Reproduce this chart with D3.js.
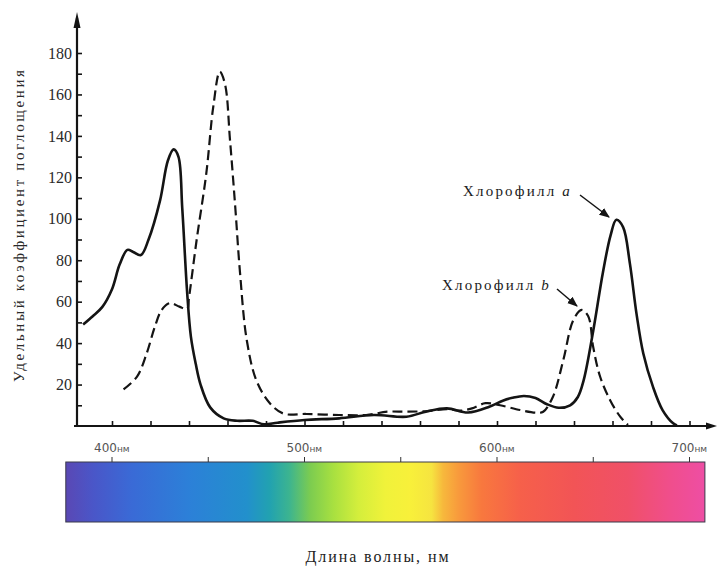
<!DOCTYPE html>
<html><head><meta charset="utf-8">
<script src="https://cdn.jsdelivr.net/npm/d3@7"></script>
<style>html,body{margin:0;padding:0;background:#fff;}svg{display:block;}
.serif{font-family:"Liberation Serif","DejaVu Serif","Noto Serif",serif;}
.sans{font-family:"DejaVu Sans","Liberation Sans",sans-serif;}
</style>
</head><body>
<svg id="chart" width="719" height="572"></svg>
<script>
// ---- data ----
const wavelengthA = [385,390,395,400,404,408,411,415,419,425,429,432,434.5,436.5,439,441,443.5,446,451,458,465,473,479,486,500,518,536,553,563,574,585,596,603,608,614,620,626,632,638,642,645,650,655,659,662,665.5,669,672.5,676,681,686,691.5,693.5];
const absorbA = [49,53,57.5,66,78,85,84,82.5,90,109,128,133.5,130,105,65,43,30,20,9,3.7,2.5,2.5,0.8,1.6,2.9,3.7,5.3,4.5,6.9,8.5,6.5,9.3,12.2,13.6,14.5,13.5,10.5,8.8,10,14,22,46,74,92,99.5,96,78.6,54,35,19,7.7,1.3,0.3];
const wavelengthB = [406,413,418,422.3,425.8,430,435,439,440,444,449,452.6,456,458.7,461.3,464,466.5,470,475,482,489,501,518,532,543,553,564,574,581,587,594,601.6,612,620.6,624,629,634.5,639.6,644,647.4,650,653.5,658.7,664,668];
const absorbB = [17.7,23.8,35,48,56,59.3,57.6,56.4,62,90,122,154,171,165,138,106,74,41.5,22,11,6,5.8,5.3,5.3,6.9,6.9,7.2,8.1,7.4,8.5,11,10,7.7,6.4,6.9,14,32,51,56,53,38,24,12.6,4.5,0.5];
const yTicks = d3.range(10, 181, 10);
const yLabelTicks = [20,40,60,80,100,120,140,160,180];
const xTicks = d3.range(400, 701, 20);
const spectrumTicks = d3.range(400, 701, 50);
const spectrumLabels = [400, 500, 600, 700];
const spectrumWl = [376,390,410,440,470,482,492,503,515,528,542,555,566,572,580,592,612,640,668,690,708];
const spectrumColor = ["#5a48b4","#4a56c8","#3a6ad6","#2c80d8","#2290cc","#22a2b0","#3cb490","#7ccc50","#a8e040","#d4ee3c","#f0f23a","#f8f03a","#f6e440","#f7b83c","#f89a3c","#f8783e","#f6604a","#f25456","#f05068","#f04e8c","#ee4ea4"];
const yTitle = "Удельный коэффициент поглощения";
const xTitle = "Длина волны, нм";
const labelA = ["Хлорофилл ", "a"];
const labelB = ["Хлорофилл ", "b"];

// ---- chart ----
const svg = d3.select("#chart");
const x = d3.scaleLinear().domain([400, 700]).range([112, 689.5]);
const y = d3.scaleLinear().domain([0, 180]).range([426, 53]);
const ink = "#141414";

const defs = svg.append("defs");
defs.append("marker").attr("id","ah").attr("viewBox","0 0 10 10").attr("refX",9).attr("refY",5)
  .attr("markerWidth",7).attr("markerHeight",7).attr("orient","auto")
  .append("path").attr("d","M0,1 L10,5 L0,9 Z").attr("fill",ink);

// spectrum gradient
const barX0 = x(376), barX1 = x(708);
const grad = defs.append("linearGradient").attr("id","spec")
  .attr("gradientUnits","userSpaceOnUse").attr("x1",barX0).attr("x2",barX1).attr("y1",0).attr("y2",0);
spectrumWl.forEach((w,i)=>{
  grad.append("stop").attr("offset",(x(w)-barX0)/(barX1-barX0)).attr("stop-color",spectrumColor[i]);
});

// y axis
const axX = x(400)-35;
const yAxis = d3.axisLeft(y).tickValues(yTicks).tickSize(-5).tickPadding(5)
  .tickFormat(d => yLabelTicks.includes(d) ? d : "");
const gy = svg.append("g").attr("transform",`translate(${axX},0)`).call(yAxis);
gy.attr("font-family",null);
gy.select(".domain").remove();
gy.selectAll(".tick line").attr("stroke",ink).attr("stroke-width",1.6);
gy.selectAll(".tick text").attr("class","serif").attr("font-size",16).attr("fill","#2a2a2a");
svg.append("line").attr("x1",axX).attr("x2",axX).attr("y1",y(0)+1).attr("y2",18)
  .attr("stroke",ink).attr("stroke-width",2.2);
svg.append("path").attr("d",`M${axX},12 L${axX-3.5},28 L${axX+3.5},28 Z`).attr("fill",ink);

// x axis
const xAxis = d3.axisBottom(x).tickValues(xTicks).tickSize(-5).tickFormat("");
const gx = svg.append("g").attr("transform",`translate(0,${y(0)})`).call(xAxis);
gx.select(".domain").remove();
gx.selectAll(".tick line").attr("stroke",ink).attr("stroke-width",1.6);
svg.append("line").attr("x1",axX-3).attr("x2",712).attr("y1",y(0)).attr("y2",y(0))
  .attr("stroke",ink).attr("stroke-width",2.2);
svg.append("path").attr("d",`M717,${y(0)} L706,${y(0)-3.5} L706,${y(0)+3.5} Z`).attr("fill",ink);

// curves
const lineGen = d3.line().x(d=>x(d[0])).y(d=>y(d[1])).curve(d3.curveCatmullRom.alpha(0.5));
svg.append("path").datum(wavelengthA.map((w,i)=>[w,absorbA[i]])).attr("d",lineGen)
  .attr("fill","none").attr("stroke",ink).attr("stroke-width",2.6).attr("stroke-linejoin","round");
svg.append("path").datum(wavelengthB.map((w,i)=>[w,absorbB[i]])).attr("d",lineGen)
  .attr("fill","none").attr("stroke",ink).attr("stroke-width",2.2).attr("stroke-dasharray","10,5");

// annotations
function label(parts, xs, yb) {
  const t = svg.append("text").attr("class","serif").attr("x",xs).attr("y",yb)
    .attr("font-size",15).attr("fill","#1a1a1a").attr("letter-spacing",2.2);
  t.append("tspan").text(parts[0]);
  t.append("tspan").attr("font-style","italic").text(parts[1]);
}
label(labelA, 463, 196);
label(labelB, 442, 290);
svg.append("line").attr("x1",580).attr("y1",195).attr("x2",609).attr("y2",217)
  .attr("stroke",ink).attr("stroke-width",1.5).attr("marker-end","url(#ah)");
svg.append("line").attr("x1",557).attr("y1",289).attr("x2",577).attr("y2",306)
  .attr("stroke",ink).attr("stroke-width",1.5).attr("marker-end","url(#ah)");

// y title
svg.append("text").attr("class","serif").attr("transform",`translate(24,${226}) rotate(-90)`)
  .attr("text-anchor","middle").attr("font-size",15)
  .attr("textLength",312).attr("lengthAdjust","spacing").attr("fill","#2a2a2a").text(yTitle);

// spectrum bar
const barTop = 462, barBot = 522;
svg.append("rect").attr("x",barX0).attr("y",barTop).attr("width",barX1-barX0).attr("height",barBot-barTop)
  .attr("fill","url(#spec)").attr("stroke","#3a3a4a").attr("stroke-width",1);
svg.selectAll(".stick").data(spectrumTicks).enter().append("line")
  .attr("x1",d=>x(d)).attr("x2",d=>x(d)).attr("y1",barTop-5).attr("y2",barTop)
  .attr("stroke","#333").attr("stroke-width",1);
const sl = svg.selectAll(".slab").data(spectrumLabels).enter().append("text")
  .attr("class","sans").attr("x",d=>x(d)-18).attr("y",452)
  .attr("font-size",12).attr("fill","#555");
sl.append("tspan").text(d=>d);
sl.append("tspan").attr("font-size",9).text("нм");

// x title
svg.append("text").attr("class","serif").attr("x",377).attr("y",562).attr("text-anchor","middle")
  .attr("font-size",16).attr("textLength",143).attr("lengthAdjust","spacing").attr("fill","#222").text(xTitle);
</script>
</body></html>
